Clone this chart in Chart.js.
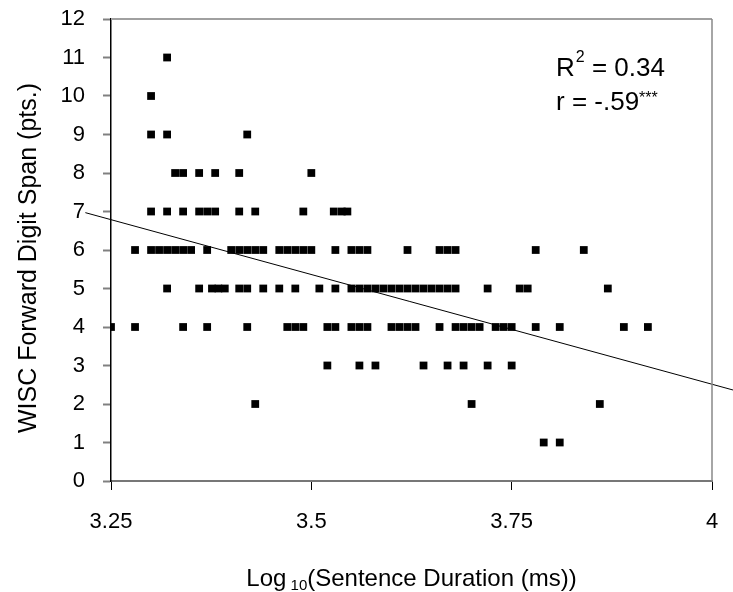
<!DOCTYPE html>
<html>
<head>
<meta charset="utf-8">
<script src="https://cdn.jsdelivr.net/npm/chart.js@4.4.0/dist/chart.umd.min.js"></script>
<style>
  html, body { margin: 0; padding: 0; background: #fff; }
</style>
</head>
<body>
<canvas id="grafico" width="733" height="592"></canvas>
<script>
// --- DATOS: log10 de la duración para cada nivel de span ---
const spanNiveles = [1, 2, 3, 4, 5, 6, 7, 8, 9, 10, 11];
const span1 = [3.79, 3.81];
const span2 = [3.43, 3.70, 3.86];
const span3 = [3.52, 3.56, 3.58, 3.64, 3.67, 3.69, 3.72, 3.75];
const span4 = [3.25, 3.28, 3.34, 3.37, 3.42, 3.47, 3.48, 3.49, 3.52, 3.53, 3.55, 3.56, 3.57, 3.60, 3.61, 3.62, 3.63,
               3.66, 3.68, 3.69, 3.70, 3.71, 3.73, 3.74, 3.75, 3.78, 3.81, 3.89, 3.92];
const span5 = [3.32, 3.36, 3.376, 3.384, 3.392, 3.41, 3.42, 3.44, 3.46, 3.48, 3.51, 3.53, 3.55, 3.56, 3.57, 3.58,
               3.59, 3.60, 3.61, 3.62, 3.63, 3.64, 3.65, 3.66, 3.67, 3.68, 3.72, 3.76, 3.77, 3.87];
const span6 = [3.28, 3.30, 3.31, 3.32, 3.33, 3.34, 3.35, 3.37, 3.40, 3.41, 3.42, 3.43, 3.44, 3.46, 3.47, 3.48,
               3.49, 3.50, 3.53, 3.55, 3.56, 3.57, 3.62, 3.66, 3.67, 3.68, 3.78, 3.84];
const span7 = [3.30, 3.32, 3.34, 3.36, 3.37, 3.38, 3.41, 3.43, 3.49, 3.528, 3.538, 3.545];
const span8 = [3.33, 3.34, 3.36, 3.38, 3.41, 3.50];
const span9 = [3.30, 3.32, 3.42];
const span10 = [3.30];
const span11 = [3.32];
const spanGrupos = [span1, span2, span3, span4, span5, span6, span7, span8, span9, span10, span11];

// recta de regresión (extremos)
const ajusteX = [3.218, 4.0262];
const ajusteY = [6.97, 2.364];

const ticksX = [3.25, 3.5, 3.75, 4];

const puntos = [];
spanGrupos.forEach((grupo, i) => grupo.forEach(x => puntos.push({ x: x, y: spanNiveles[i] })));
const recta = ajusteX.map((x, i) => ({ x: x, y: ajusteY[i] }));

const FUENTE = "'Liberation Sans', Arial, sans-serif";

// marco, títulos y anotación
const extras = {
  id: 'extras',
  afterDraw(chart) {
    const c = chart.ctx, a = chart.chartArea;
    c.save();
    c.strokeStyle = '#a0a0a0'; c.lineWidth = 2;
    c.beginPath(); c.moveTo(a.left, a.top); c.lineTo(a.right, a.top); c.stroke();
    c.strokeStyle = '#888'; c.lineWidth = 1.5;
    c.beginPath(); c.moveTo(a.right, a.top); c.lineTo(a.right, a.bottom); c.stroke();

    c.fillStyle = '#000';
    c.textBaseline = 'alphabetic';

    // título eje Y
    c.save();
    c.translate(36, 258);
    c.rotate(-Math.PI / 2);
    c.font = '25px ' + FUENTE;
    c.textAlign = 'center';
    c.fillText('WISC Forward Digit Span (pts.)', 0, 0);
    c.restore();

    // título eje X con subíndice
    const partes = [['Log', 24, 0], [' 10', 15, 4], ['(Sentence Duration (ms))', 24, 0]];
    let ancho = 0;
    partes.forEach(p => { c.font = p[1] + 'px ' + FUENTE; ancho += c.measureText(p[0]).width; });
    let x = (a.left + a.right) / 2 - ancho / 2;
    c.textAlign = 'left';
    partes.forEach(p => { c.font = p[1] + 'px ' + FUENTE; c.fillText(p[0], x, 586 + p[2]); x += c.measureText(p[0]).width; });

    // R² y r
    const x0 = 556;
    c.font = '26px ' + FUENTE;
    c.fillText('R', x0, 76);
    let w = c.measureText('R').width;
    c.font = '16px ' + FUENTE;
    c.fillText('2', x0 + w + 1, 62);
    let w2 = c.measureText('2').width;
    c.font = '26px ' + FUENTE;
    c.fillText(' = 0.34', x0 + w + 1 + w2, 76);
    c.fillText('r = -.59', x0, 110);
    w = c.measureText('r = -.59').width;
    c.font = '16px ' + FUENTE;
    c.fillText('***', x0 + w, 103);
    c.restore();
  }
};

new Chart(document.getElementById('grafico'), {
  type: 'scatter',
  data: {
    datasets: [
      { type: 'line', data: recta, borderColor: '#000', borderWidth: 1, pointRadius: 0, clip: false, order: 2 },
      { data: puntos, pointStyle: 'rect', pointRadius: 5.5, backgroundColor: '#000', borderWidth: 0, order: 1 }
    ]
  },
  options: {
    responsive: false,
    animation: false,
    layout: { padding: { left: 0, right: 21, top: 19, bottom: 0 } },
    plugins: { legend: { display: false }, tooltip: { enabled: false } },
    scales: {
      x: {
        type: 'linear', min: 3.25, max: 4,
        afterBuildTicks: s => { s.ticks = ticksX.map(v => ({ value: v })); },
        afterFit: s => { s.height = 111; s.paddingLeft = 0; s.paddingRight = 0; },
        ticks: { color: '#000', font: { family: FUENTE, size: 22 }, padding: 19, callback: v => String(+v.toFixed(2)) },
        grid: { drawOnChartArea: false, tickLength: 9, color: '#000', tickWidth: 1 },
        border: { color: '#777', width: 2 }
      },
      y: {
        min: 0, max: 12,
        afterFit: s => { s.width = 111; s.paddingTop = 0; s.paddingBottom = 0; },
        ticks: { stepSize: 1, color: '#000', font: { family: FUENTE, size: 22 }, padding: 18 },
        grid: { drawOnChartArea: false, tickLength: 8, color: '#808080', tickWidth: 2 },
        border: { color: '#000', width: 1.5 }
      }
    }
  },
  plugins: [extras]
});
</script>
</body>
</html>
